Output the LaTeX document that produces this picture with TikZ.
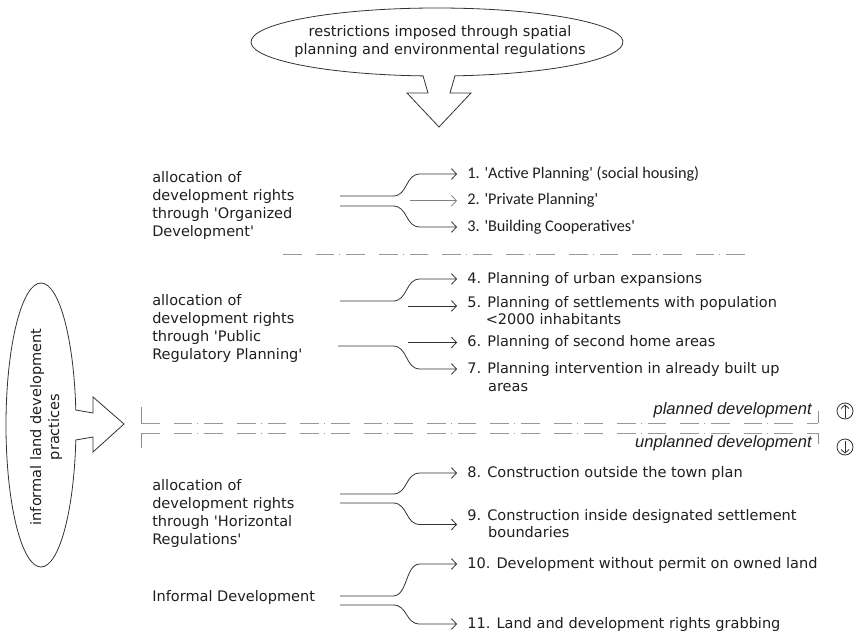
\documentclass[tikz,border=0pt]{standalone}
\usepackage{fontspec}
\setmainfont{DejaVu Sans}
\newfontfamily\calfont{Carlito}
\newfontfamily\arfont{Liberation Sans}
\usetikzlibrary{arrows.meta,calc}
\newcommand{\sqt}{\textquotesingle}
\begin{document}
\begin{tikzpicture}[x=0.75pt,y=-0.75pt,
  lbl/.style={anchor=west,inner sep=0pt,align=left,text=black!88,font=\fontsize{10.9pt}{13.5pt}\selectfont},
  itm/.style={anchor=west,inner sep=0pt,align=left,text=black!88,font=\fontsize{10.9pt}{13pt}\selectfont},
  citm/.style={anchor=west,inner sep=0pt,text=black!88,font=\calfont\fontsize{12.2pt}{14pt}\selectfont},
  ital/.style={anchor=east,inner sep=0pt,text=black!88,font=\arfont\itshape\fontsize{12.4pt}{14pt}\selectfont},
  conn/.style={draw=black!80,line width=0.6pt,-{Straight Barb[length=3.75pt,width=8pt]}},
  lconn/.style={conn,draw=black!50},
  sepline/.style={draw=black!40,line width=0.7pt,dash pattern=on 14pt off 10.5pt on 14pt off 3.75pt on 0.75pt off 4.5pt},
  tick/.style={draw=black!45,line width=0.7pt},
  callout/.style={draw=black!80,line width=0.6pt,fill=white,line join=miter},
  rcirc/.style={circle,draw=black!80,line width=0.6pt,minimum size=12pt,inner sep=0pt},
  carrow/.style={draw=black!80,line width=0.6pt,-{Straight Barb[length=2.6pt,width=6pt]}}
]
\useasboundingbox (0,0) rectangle (857,635);

% top callout
\path[callout] (423.05,75.9) arc[start angle=94.3,end angle=444.45,x radius=186,y radius=34]
  -- (450,93) -- (471,93) -- (439,127) -- (407,93) -- (428,93) -- cycle;
\node[lbl,anchor=center,align=center] (top) at (440,41.5)
  {restrictions imposed through spatial\\planning and environmental regulations};

% left callout
\path[callout] (75.8,440) arc[start angle=6.06,end angle=353.94,x radius=35,y radius=142]
  -- (93,413) -- (93,397) -- (124,424) -- (93,452) -- (93,437) -- cycle;
\node[lbl,anchor=center,align=center,rotate=90] (inf) at (46,427)
  {informal land development\\practices};

% left labels
\node[lbl] (b1) at (152,205.5) {allocation of\\development rights\\through \sqt Organized\\Development\sqt};
\node[lbl] (b2) at (152,328.5) {allocation of\\development rights\\through \sqt Public\\Regulatory Planning\sqt};
\node[lbl] (b3) at (152,513.5) {allocation of\\development rights\\through \sqt Horizontal\\Regulations\sqt};
\node[lbl] (b4) at (152,597) {Informal Development};

% items
\node[citm] (i1) at (467,174) {1. \sqt Active Planning\sqt\ (social housing)};
\node[citm] (i2) at (467,200.7) {2. \sqt Private Planning\sqt};
\node[citm] (i3) at (467,227) {3. \sqt Building Cooperatives\sqt};
\node[itm] (i4) at (467,279) {4. Planning of urban expansions};
\node[itm] (i5) at (467,310.5) {5. Planning of settlements with population\\\hphantom{5.\ }<2000 inhabitants};
\node[itm] (i6) at (467,342.5) {6. Planning of second home areas};
\node[itm] (i7) at (467,377) {7. Planning intervention in already built up\\\hphantom{7.\ }\,areas};
\node[itm] (i8) at (467,473) {8. Construction outside the town plan};
\node[itm] (i9) at (467,523.5) {9. Construction inside designated settlement\\\hphantom{9.\ }\,boundaries};
\node[itm] (i10) at (467,564) {10. Development without permit on owned land};
\node[itm] (i11) at (467,624) {11. Land and development rights grabbing};

% connector starts
\coordinate (b1u) at (340,196);
\coordinate (b1d) at (340,206);
\coordinate (b2u) at (340,301);
\coordinate (b2d) at (338,346);
\coordinate (b3u) at (340,494);
\coordinate (b3d) at (340,503);
\coordinate (b4u) at (340,596);
\coordinate (b4d) at (340,605);

% block 1
\draw[conn] (b1u) -- ++(53,0) .. controls +(15,0) and +(-15,0) .. ($(i1.west)+(-47,0)$) -- ($(i1.west)+(-10,0)$);
\draw[lconn] ($(i2.west)+(-57,0)$) -- ($(i2.west)+(-10,0)$);
\draw[conn] (b1d) -- ++(53,0) .. controls +(15,0) and +(-15,0) .. ($(i3.west)+(-47,0)$) -- ($(i3.west)+(-10,0)$);

% block 2
\draw[conn] (b2u) -- ++(53,0) .. controls +(15,0) and +(-15,0) .. ($(i4.west)+(-47,0)$) -- ($(i4.west)+(-10,0)$);
\draw[conn] ($(i5.west)+(-59,-4.5)$) -- ($(i5.west)+(-10,-4.5)$);
\draw[conn] ($(i6.west)+(-59,0)$) -- ($(i6.west)+(-10,0)$);
\draw[conn] (b2d) -- ++(55,0) .. controls +(15,0) and +(-15,0) .. ($(i7.west)+(-47,-8)$) -- ($(i7.west)+(-10,-8)$);

% block 3
\draw[conn] (b3u) -- ++(53,0) .. controls +(15,0) and +(-15,0) .. ($(i8.west)+(-47,0)$) -- ($(i8.west)+(-10,0)$);
\draw[conn] (b3d) -- ++(53,0) .. controls +(15,0) and +(-15,0) .. ($(i9.west)+(-47,1)$) -- ($(i9.west)+(-10,1)$);

% block 4
\draw[conn] (b4u) -- ++(53,0) .. controls +(15,0) and +(-15,0) .. ($(i10.west)+(-47,0)$) -- ($(i10.west)+(-10,0)$);
\draw[conn] (b4d) -- ++(53,0) .. controls +(15,0) and +(-15,0) .. ($(i11.west)+(-47,0)$) -- ($(i11.west)+(-10,0)$);

% separators
\coordinate (sa) at (283,254);
\coordinate (sb) at (747,254);
\draw[sepline] (sa) -- (sb);

\coordinate (ul) at (141,423);
\coordinate (ur) at (818,423);
\coordinate (ll) at (141,433);
\coordinate (lr) at (818,433);
\draw[sepline] (ul) -- (ur);
\draw[sepline] (ll) -- (lr);
\draw[tick] (ul) -- ++(0,-16);
\draw[tick] (ur) -- ++(0,-12);
\draw[tick] (ll) -- ++(0,15);
\draw[tick] (lr) -- ++(0,11);

\node[ital] (pl) at (812,410) {planned development};
\node[ital] (upl) at (812,443) {unplanned development};

\node[rcirc] (cu) at (845,411) {};
\node[rcirc] (cd) at (845,447) {};
\draw[carrow] ($(cu.center)+(0,6.5)$) -- ($(cu.center)+(0,-6.5)$);
\draw[carrow] ($(cd.center)+(0,-6.5)$) -- ($(cd.center)+(0,6.5)$);
\end{tikzpicture}
\end{document}
